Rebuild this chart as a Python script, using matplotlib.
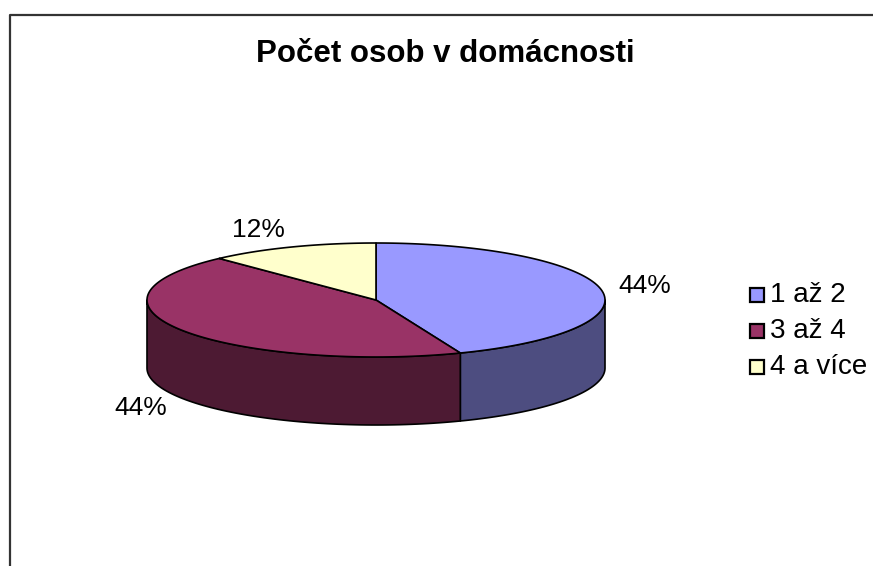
import numpy as np
import matplotlib
matplotlib.use("Agg")
import matplotlib.pyplot as plt
from matplotlib.patches import Polygon, Rectangle

plt.rcParams['font.family'] = ['Liberation Sans', 'DejaVu Sans']

title = 'Počet osob v domácnosti'
labels = ['1 až 2', '3 až 4', '4 a více']
values = [44, 44, 12]
top_colors = ['#9999FF', '#993366', '#FFFFCC']
side_colors = ['#4D4D80', '#4D1A33', '#80806A']

W, H = 873, 566
fig = plt.figure(figsize=(W / 100, H / 100), dpi=100)
ax = fig.add_axes([0, 0, 1, 1])
ax.set_xlim(0, W)
ax.set_ylim(H, 0)
ax.axis('off')

# chart frame (right/bottom cut off in the reference)
ax.plot([10, 10, W + 5], [H + 5, 15, 15], color='#333333', lw=1.6)

ax.text(445, 54, title, ha='center', va='center', fontsize=22.5, fontweight='bold')

# pie geometry in pixel space
cx, cy, rx, ry, depth = 376, 300, 229, 57, 68


def pt(theta, yoff=0.0, grow=0.0):
    t = np.radians(theta)
    return cx + (rx + grow) * np.sin(t), cy - (ry + grow) * np.cos(t) + yoff


fracs = np.array(values, float) / sum(values)
bounds = np.concatenate([[0], np.cumsum(fracs) * 360])

# side walls (front half: 90..270 degrees clockwise from top)
for i in range(len(values)):
    a0, a1 = max(bounds[i], 90), min(bounds[i + 1], 270)
    if a1 <= a0:
        continue
    th = np.linspace(a0, a1, 80)
    top = np.array([pt(t) for t in th])
    bot = np.array([pt(t, depth) for t in th[::-1]])
    ax.add_patch(Polygon(np.vstack([top, bot]), closed=True, fc=side_colors[i],
                         ec='black', lw=1.2, joinstyle='round'))

# top faces
for i in range(len(values)):
    th = np.linspace(bounds[i], bounds[i + 1], 120)
    arc = np.array([pt(t) for t in th])
    poly = np.vstack([[cx, cy], arc])
    ax.add_patch(Polygon(poly, closed=True, fc=top_colors[i], ec='black',
                         lw=1.2, joinstyle='round'))

# percentage labels
for i in range(len(values)):
    mid = (bounds[i] + bounds[i + 1]) / 2
    front = np.cos(np.radians(mid)) < 0
    x, y = pt(mid, depth if front else 0, grow=18)
    ha = 'left' if np.sin(np.radians(mid)) > 0 else 'right'
    ax.text(x, y, f'{round(fracs[i] * 100):.0f}%', ha=ha, va='center', fontsize=19)

# legend
for i, lab in enumerate(labels):
    ly = 295 + i * 36
    ax.add_patch(Rectangle((750, ly - 7), 14, 14, fc=top_colors[i], ec='black', lw=1.6))
    ax.text(770, ly, lab, ha='left', va='center', fontsize=20)

fig.savefig('out.png', dpi=100)
